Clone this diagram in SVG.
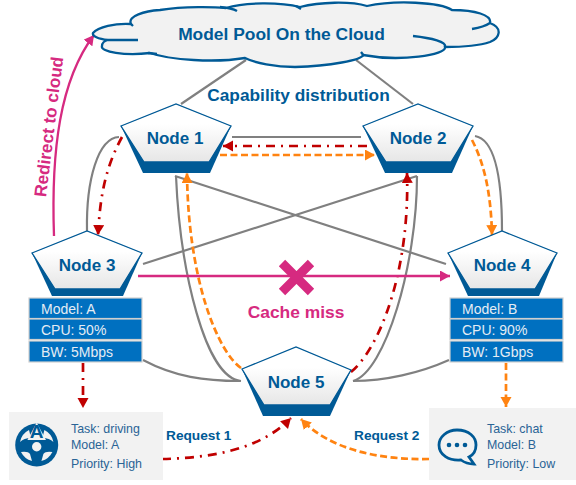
<svg xmlns="http://www.w3.org/2000/svg" width="576" height="485" viewBox="0 0 576 485">
<style>
text{font-family:"Liberation Sans",Arial,sans-serif}
.b{font-weight:bold;fill:#005a96}
.nl{font-size:17px;font-weight:bold;fill:#005a96;text-anchor:middle}
.g{fill:none;stroke:#808080;stroke-width:2.2}
.r{fill:none;stroke:#c00000;stroke-width:2.7;stroke-dasharray:9 6 2 6}
.o{fill:none;stroke:#ff8311;stroke-width:2.7;stroke-dasharray:7 3.5}
.top{fill:url(#pg);stroke:#005a96;stroke-width:1.3}
.bev{fill:#005a96}
.row{fill:#0070c0;stroke:#d0d0d0;stroke-width:1.2}
.tt{font-size:14px;fill:#e4ecf4}
.task{fill:#f2f2f2}
.tk{font-size:12.4px;fill:#2a6496}
.cl{fill:none;stroke:#005a96;stroke-width:2.3}
.hole{fill:#f2f2f2}
</style>
<defs>
<linearGradient id="pg" x1="0" y1="0" x2="0" y2="1"><stop offset="0.35" stop-color="#ffffff"/><stop offset="1" stop-color="#e6e6e6"/></linearGradient>
<marker id="ar" markerUnits="userSpaceOnUse" markerWidth="11" markerHeight="12" refX="10" refY="5.5" orient="auto"><path d="M0 0L10 5.5L0 11z" fill="#c00000"/></marker>
<marker id="ao" markerUnits="userSpaceOnUse" markerWidth="11" markerHeight="12" refX="10" refY="5.5" orient="auto"><path d="M0 0L10 5.5L0 11z" fill="#ff8311"/></marker>
<marker id="ap" markerUnits="userSpaceOnUse" markerWidth="11" markerHeight="12" refX="10" refY="5.5" orient="auto"><path d="M0 0L10 5.5L0 11z" fill="#d62a80"/></marker>
</defs>
<g id="connectors">
<path class="g" d="M181 104L246 60"/>
<path class="g" d="M413 104L356 60"/>
<path class="g" d="M232 137H361"/>
<path class="g" d="M119 137C98 138 86 180 87 231"/>
<path class="g" d="M475 136C498 140 502 190 502 231"/>
<path class="g" d="M175 176L446 264"/>
<path class="g" d="M417 176L143 264"/>
<path class="g" d="M176 176C180 270 205 378 241 381"/>
<path class="g" d="M417 176C417 265 385 372 353 381"/>
<path class="g" d="M143 360C175 377 205 381 240 381"/>
<path class="g" d="M449 360C420 373 385 381 353 381"/>
<path class="r" d="M122 137C104 170 100 200 98 235" marker-end="url(#ar)"/>
<path class="r" d="M367 146H223" marker-end="url(#ar)"/>
<path class="o" d="M220 155H375" marker-end="url(#ao)"/>
<path class="o" d="M472 140C485 165 491 195 492 235" marker-end="url(#ao)"/>
<path class="o" d="M241 368C218 352 188 280 187 173" marker-end="url(#ao)"/>
<path class="r" d="M351 372C380 348 410 270 407 173" marker-end="url(#ar)"/>
<path d="M54 236C51 150 60 80 94 35" fill="none" stroke="#d62a80" stroke-width="2.3" marker-end="url(#ap)"/>
<path d="M138 276H450" fill="none" stroke="#d62a80" stroke-width="2.3" marker-end="url(#ap)"/>
<path class="r" d="M83 363V408" marker-end="url(#ar)"/>
<path class="o" d="M506 363V407" marker-end="url(#ao)"/>
<path class="r" d="M162 459C210 458 260 450 291 418" marker-end="url(#ar)"/>
<path class="o" d="M429 459C380 460 330 450 301 419" marker-end="url(#ao)"/>
</g>
<g id="cloud">
<path d="M93 33C98 27 115 23 131 24C127 16 145 11 160 10C185 6 215 7 226 8C245 2 280 2 300 7C320 2 350 1 367 6C395 0 440 2 452 10C475 10 492 15 490 23C503 28 500 38 490 42C478 46 460 47 445 47C447 55 400 62 363 55C362 60 330 66 295 67C275 67 255 63 245 58C215 63 170 60 150 53C125 56 100 52 102 46C102 43 104 41 108 40C98 39 92 36 93 33Z" fill="#f2f2f2" stroke="#005a96" stroke-width="2.3"/>
<path class="cl" d="M108 40H138M220 7Q232 8 237 11M157 54L148 53M490 23Q484 27 472 29M413 36C432 38 447 42 445 47M361 52L364 56M296 6L301 9M131 24L133 26"/>
<text x="281.500" y="40" class="b" font-size="17.400" text-anchor="middle">Model Pool On the Cloud</text>
</g>
<text x="298.500" y="101" class="b" font-size="17.300" text-anchor="middle">Capability distribution</text>
<text transform="translate(46 197.500) rotate(-83)" font-size="17.300" font-weight="bold" fill="#d62a80">Redirect to cloud</text>
<g id="node1">
<path class="bev" d="M121 126L143 173H210L231 126L176 104Z"/>
<path class="top" d="M121 126L176 104L231 126L209 162H144Z"/>
<text x="175" y="144" class="nl">Node 1</text>
</g>
<g id="node2">
<path class="bev" d="M363 126L385 173H452L473 126L418 104Z"/>
<path class="top" d="M363 126L418 104L473 126L451 162H386Z"/>
<text x="418" y="144" class="nl">Node 2</text>
</g>
<g id="node3">
<path class="bev" d="M32 253L52 296H123L142 253L87 231Z"/>
<path class="top" d="M32 253L87 231L142 253L120 289H55Z"/>
<text x="87" y="271" class="nl">Node 3</text>
</g>
<g id="node4">
<path class="bev" d="M448 253L468 296H539L557 253L502 231Z"/>
<path class="top" d="M448 253L502 231L557 253L535 289H470Z"/>
<text x="502" y="271" class="nl">Node 4</text>
</g>
<g id="node5">
<path class="bev" d="M242 369L263 416H330L351 370L296 347Z"/>
<path class="top" d="M242 369L296 347L351 370L330 405H264Z"/>
<text x="296" y="388" class="nl">Node 5</text>
</g>
<g id="table3">
<rect class="row" x="29" y="298" width="113" height="20.5"/><rect class="row" x="29" y="319" width="113" height="20.5"/><rect class="row" x="29" y="341" width="113" height="21"/>
<text class="tt" x="41" y="314">Model: A</text><text class="tt" x="41" y="335">CPU: 50%</text><text class="tt" x="41" y="357">BW: 5Mbps</text>
</g>
<g id="table4">
<rect class="row" x="450" y="298" width="113" height="20.5"/><rect class="row" x="450" y="319" width="113" height="20.5"/><rect class="row" x="450" y="341" width="113" height="21"/>
<text class="tt" x="462" y="314">Model: B</text><text class="tt" x="462" y="335">CPU: 90%</text><text class="tt" x="462" y="357">BW: 1Gbps</text>
</g>
<g id="cross"><path d="M282 263L311 292M311 263L282 292" stroke="#d62a80" stroke-width="9" fill="none"/></g>
<text x="296" y="318" font-size="17.400" font-weight="bold" fill="#d62a80" text-anchor="middle">Cache miss</text>
<g id="task1">
<rect class="task" x="9" y="412" width="154" height="68"/>
<circle cx="36.700" cy="445" r="21.500" fill="#005a96"/>
<path class="hole" d="M20 442A17 17 0 0 1 29 430L31 438Q24 438 20 442Z"/>
<path class="hole" d="M53.400 442A17 17 0 0 0 44.400 430L42.400 438Q49.400 438 53.400 442Z"/>
<path class="hole" d="M21 452Q28 451 30 454L32 461A17 17 0 0 1 21 452Z"/>
<path class="hole" d="M52.400 452Q45.400 451 43.400 454L41.400 461A17 17 0 0 0 52.400 452Z"/>
<circle class="hole" cx="36.700" cy="446.700" r="4.700"/>
<path d="M36.700 422.500L46 440H27.400Z" fill="#f2f2f2"/>
<text x="36.700" y="438" font-size="19" font-weight="bold" fill="#005a96" text-anchor="middle">A</text>
<text class="tk" x="71" y="433">Task: driving</text><text class="tk" x="71" y="449">Model: A</text><text class="tk" x="71" y="468">Priority: High</text>
</g>
<g id="task2">
<rect class="task" x="429" y="408" width="147" height="72"/>
<path d="M457 430C469 430 476 437 476 445C476 451 473 455 469 457L474 464C469 464 465 463 461 460C449 461 439 455 439 445C439 437 447 430 457 430Z" fill="none" stroke="#005a96" stroke-width="2.800"/>
<circle cx="449" cy="445" r="2.300" fill="#005a96"/><circle cx="457" cy="445" r="2.300" fill="#005a96"/><circle cx="465" cy="445" r="2.300" fill="#005a96"/>
<text class="tk" x="487" y="433">Task: chat</text><text class="tk" x="487" y="449">Model: B</text><text class="tk" x="487" y="468">Priority: Low</text>
</g>
<text x="166" y="440" class="b" font-size="13.700">Request 1</text>
<text x="354" y="440" class="b" font-size="13.700">Request 2</text>
</svg>
